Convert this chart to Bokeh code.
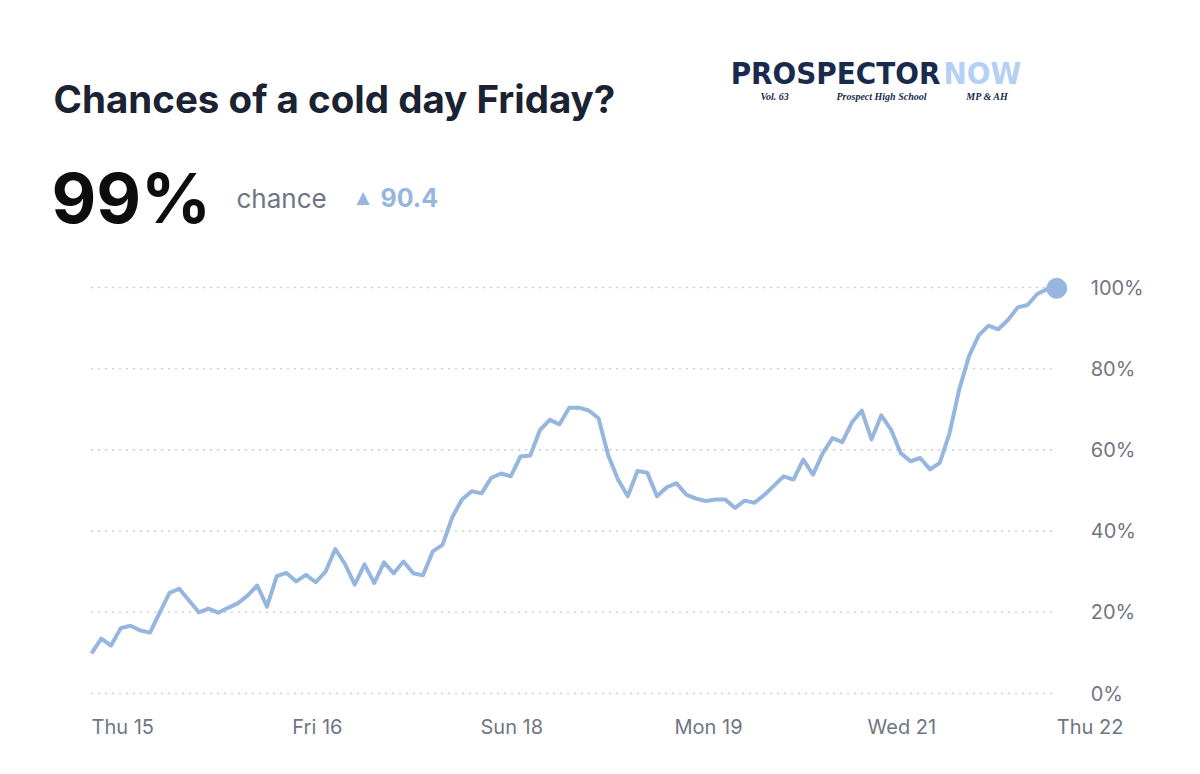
from bokeh.plotting import figure
from bokeh.models import Range1d, Label
from bokeh.core.properties import value
from bokeh.embed import file_html
from bokeh.resources import INLINE

# ---- data ----
CHANCE = [9.9, 13.5, 11.8, 16.1, 16.7, 15.5, 15.0, 19.9, 24.8, 25.8,
          22.9, 20.0, 20.9, 19.9, 21.1, 22.2, 24.1, 26.6, 21.4, 28.9,
          29.7, 27.6, 29.2, 27.4, 30.0, 35.6, 31.9, 26.8, 31.8, 27.2,
          32.3, 29.6, 32.5, 29.6, 29.1, 35.0, 36.6, 43.4, 47.8, 49.8,
          49.3, 53.1, 54.2, 53.5, 58.4, 58.6, 64.9, 67.4, 66.3, 70.4,
          70.4, 69.7, 67.8, 58.6, 52.7, 48.6, 54.8, 54.4, 48.6, 50.8,
          51.8, 49.0, 48.0, 47.4, 47.8, 47.8, 45.7, 47.5, 47.0, 48.9,
          51.2, 53.5, 52.7, 57.6, 53.9, 59.2, 62.9, 61.9, 66.8, 69.7,
          62.6, 68.5, 65.0, 59.2, 57.2, 58.0, 55.2, 56.8, 64.1, 74.9,
          83.1, 88.2, 90.6, 89.7, 92.0, 95.1, 95.7, 98.4, 99.6, 99.8]
STEP = list(range(len(CHANCE)))
X_TICKS = [0, 20.6, 39.9, 59.8, 79.6, 99]
X_LABELS = ["Thu 15", "Fri 16", "Sun 18", "Mon 19", "Wed 21", "Thu 22"]
Y_TICKS = [0, 20, 40, 60, 80, 100]
Y_LABELS = ["0%", "20%", "40%", "60%", "80%", "100%"]
HEADLINE = "99%"
CHANGE = "90.4"

W, H = 1200, 774
LINE_COLOR = "#97b6df"
GRAY = "#6f7683"

# map: index i -> px 91 + 9.75 i ; value v -> px(top) 693 - 4.06 v
PX_PER_STEP = 9.75
PX_PER_PCT = 4.06
x0 = -91 / PX_PER_STEP
y0 = -(H - 693) / PX_PER_PCT

p = figure(width=W, height=H, output_backend="svg", toolbar_location=None,
           x_axis_type=None, y_axis_type=None,
           x_range=Range1d(x0, x0 + W / PX_PER_STEP),
           y_range=Range1d(y0, y0 + H / PX_PER_PCT),
           min_border=0, min_border_left=0, min_border_right=0,
           min_border_top=0, min_border_bottom=0)
p.outline_line_color = None
p.background_fill_color = "white"
p.border_fill_color = "white"

# dotted gridlines spanning the data
first, last = STEP[0], STEP[-1]
p.segment(x0=[first] * len(Y_TICKS), x1=[last] * len(Y_TICKS),
          y0=Y_TICKS, y1=Y_TICKS, line_color="#cfd3d9",
          line_width=1.6, line_dash="1 6", line_cap="round")

# y tick labels (right side)
p.text(x=[last] * len(Y_TICKS), y=Y_TICKS, text=Y_LABELS,
       x_offset=34, text_align="left", text_baseline="middle",
       text_font=value("Inter"), text_font_size=value("20px"),
       text_color=GRAY)

# x tick labels
p.text(x=X_TICKS, y=[0] * len(X_TICKS), text=X_LABELS,
       y_offset=33, text_align="left", text_baseline="alphabetic",
       text_font=value("Inter"), text_font_size=value("20px"),
       text_color=GRAY)

# series
p.line(STEP, CHANCE, line_width=4, line_color=LINE_COLOR, line_join="round")
p.scatter([STEP[-1]], [CHANCE[-1]], size=20, fill_color=LINE_COLOR,
          line_color=LINE_COLOR)


def lab(x, y, text, size, color, font="Inter", style="normal", align="left"):
    # y = desired baseline from top; compensate the renderer's baseline drop
    yb = y - 0.36 * size
    p.add_layout(Label(x=x, y=H - yb, x_units="screen", y_units="screen",
                       text=text, text_font=font, text_font_size=f"{size}px",
                       text_color=color, text_font_style=style,
                       text_align=align, text_baseline="alphabetic"))


lab(53, 112, "Chances of a cold day Friday?", 38.5, "#1b2231", style="bold")
lab(51, 222, HEADLINE, 69, "#0d0d0f", style="bold")
lab(236, 207, "chance", 26, GRAY)
lab(356, 203, "\u25B2", 17, LINE_COLOR, font="DejaVu Sans")
lab(380, 206, CHANGE, 25, LINE_COLOR, style="bold")

# masthead
NAVY = "#1a2a4c"
LOGO_FONT = "Liberation Sans Narrow, DejaVu Sans Condensed, sans-serif"
lab(940, 84, "PROSPECTOR", 31, NAVY, font=LOGO_FONT, style="bold", align="right")
lab(943, 84, "NOW", 31, "#b5d0f5", font=LOGO_FONT, style="bold")
lab(760, 100, "Vol. 63", 10, NAVY, font="Liberation Serif", style="bold italic")
lab(881, 100, "Prospect High School", 10, NAVY, font="Liberation Serif",
    style="bold italic", align="center")
lab(1008, 100, "MP & AH", 10, NAVY, font="Liberation Serif",
    style="bold italic", align="right")

open("out.html", "w").write(file_html(p, INLINE))
